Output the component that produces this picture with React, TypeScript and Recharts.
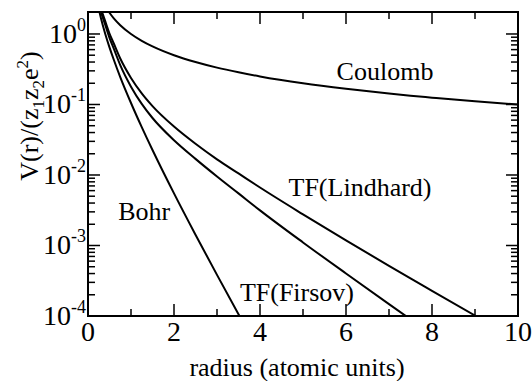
import React from 'react';
import { LineChart, Line, XAxis, YAxis, ReferenceArea, ReferenceDot } from 'recharts';

// radius in atomic units
const radius = [0.25, 0.3, 0.4, 0.5, 0.6, 0.75, 1, 1.25, 1.5, 2, 2.5, 3, 3.5, 4, 5, 6, 7, 7.5, 8, 9, 10];
const coulomb = [null, null, 2.5, 2.0, 1.667, 1.333, 1.0, 0.8, 0.667, 0.5, 0.4, 0.333, 0.286, 0.25, 0.2, 0.167, 0.143, 0.133, 0.125, 0.111, 0.1];
const bohr = [2.27, 1.69, 1.01, 0.647, 0.431, 0.245, 0.105, 0.0477, 0.0226, 0.00548, 0.00142, 3.83e-4, 1.06e-4, 3.0e-5, null, null, null, null, null, null, null];
const firsov = [2.64, 2.07, 1.35, 0.883, 0.618, 0.362, 0.179, 0.102, 0.0643, 0.0311, 0.01692, 0.00952, 0.00548, 0.00315, 0.001105, 4.01e-4, 1.474e-4, 8.98e-5, 5.48e-5, null, null];
const lindhard = [2.8, 2.28, 1.52, 1.016, 0.733, 0.449, 0.238, 0.1436, 0.0948, 0.0486, 0.0277, 0.01667, 0.01052, 0.00664, 0.002767, 0.00118, 5.15e-4, 3.42e-4, 2.28e-4, 1.016e-4, 4.54e-5];

const xTicks = [0, 1, 2, 3, 4, 5, 6, 7, 8, 9, 10];
const yTicks: number[] = [];
[-4, -3, -2, -1, 0].forEach((e) => {
  for (let m = 1; m <= 9; m++) {
    if (e === 0 && m > 1) break;
    yTicks.push(m * Math.pow(10, e));
  }
});

const labels = [
  { text: 'Coulomb', r: 6.907, v: 0.223 },
  { text: 'TF(Lindhard)', r: 6.326, v: 0.00504 },
  { text: 'Bohr', r: 1.307, v: 0.0023 },
  { text: 'TF(Firsov)', r: 4.86, v: 1.63e-4 },
];

const data = radius.map((r, i) => ({
  r,
  coulomb: coulomb[i],
  bohr: bohr[i],
  firsov: firsov[i],
  lindhard: lindhard[i],
}));

const W = 532;
const H = 381;
const PLOT = { left: 88, right: 518, top: 12, bottom: 316 };
const FONT = "Liberation Serif, Times New Roman, Times, Tinos, Nimbus Roman, Noto Serif, DejaVu Serif, serif";
const txt = (size: number) => ({ fontFamily: FONT, fontSize: size });

function YTick(props: any) {
  const { y, payload } = props;
  const v = payload.value;
  const e = Math.log10(v);
  const major = Math.abs(e - Math.round(e)) < 1e-6;
  const len = major ? 12 : 7;
  return (
    <g>
      <line x1={PLOT.left} x2={PLOT.left + len} y1={y} y2={y} stroke="#000" strokeWidth={1.5} />
      <line x1={PLOT.right} x2={PLOT.right - len} y1={y} y2={y} stroke="#000" strokeWidth={1.5} />
      {major && (
        <text x={PLOT.left - 2} y={y + 9} textAnchor="end" fontFamily={FONT} style={txt(28)} fill="#000">
          10<tspan dy={-12} style={txt(18)}>{String(Math.round(e))}</tspan>
        </text>
      )}
    </g>
  );
}

function XTick(props: any) {
  const { x, payload } = props;
  const v = payload.value;
  const major = Math.round(v) % 2 === 0;
  const len = major ? 12 : 7;
  return (
    <g>
      <line x1={x} x2={x} y1={PLOT.bottom} y2={PLOT.bottom - len} stroke="#000" strokeWidth={1.5} />
      <line x1={x} x2={x} y1={PLOT.top} y2={PLOT.top + len} stroke="#000" strokeWidth={1.5} />
      {major && (
        <text x={x} y={341} textAnchor="middle" fontFamily={FONT} style={txt(28)} fill="#000">
          {v}
        </text>
      )}
    </g>
  );
}

function XTitle() {
  return (
    <text x={297} y={376} textAnchor="middle" style={txt(26)} fill="#000">
      radius (atomic units)
    </text>
  );
}

function YTitle() {
  return (
    <text transform="translate(38,116) rotate(-90)" textAnchor="middle" style={txt(26)} fill="#000">
      V(r)/(z<tspan dy={6} style={txt(17)}>1</tspan>
      <tspan dy={-6}>z</tspan>
      <tspan dy={6} style={txt(17)}>2</tspan>
      <tspan dy={-6}>e</tspan>
      <tspan dy={-10} style={txt(17)}>2</tspan>
      <tspan dy={10}>)</tspan>
    </text>
  );
}

export default function App() {
  return (
    <div style={{ position: 'absolute', left: 0, top: 0, width: W, height: H, background: '#fff', fontFamily: FONT }}>
      <LineChart width={W} height={H} data={data} margin={{ top: PLOT.top, right: W - PLOT.right, left: 0, bottom: 0 }}>
        <XAxis
          dataKey="r"
          type="number"
          domain={[0, 10]}
          ticks={xTicks}
          interval={0}
          tickLine={false}
          axisLine={false}
          tickSize={0}
          tickMargin={0}
          height={H - PLOT.bottom}
          tick={(p: any) => <XTick {...p} />}
          label={<XTitle />}
        />
        <YAxis
          type="number"
          scale="log"
          domain={[1e-4, 2.05]}
          allowDataOverflow
          ticks={yTicks}
          interval={0}
          tickLine={false}
          axisLine={false}
          tickSize={0}
          tickMargin={0}
          width={PLOT.left}
          tick={(p: any) => <YTick {...p} />}
          label={<YTitle />}
        />
        <ReferenceArea x1={0} x2={10} y1={1e-4} y2={2.05} fill="none" stroke="#000" strokeWidth={2} ifOverflow="visible" />
        <Line type="monotone" dataKey="coulomb" stroke="#000" strokeWidth={2} dot={false} isAnimationActive={false} />
        <Line type="monotone" dataKey="bohr" stroke="#000" strokeWidth={2} dot={false} isAnimationActive={false} />
        <Line type="monotone" dataKey="firsov" stroke="#000" strokeWidth={2} dot={false} isAnimationActive={false} />
        <Line type="monotone" dataKey="lindhard" stroke="#000" strokeWidth={2} dot={false} isAnimationActive={false} />
        {labels.map((l) => (
          <ReferenceDot
            key={l.text}
            x={l.r}
            y={l.v}
            r={0}
            ifOverflow="visible"
            shape={(p: any) => (
              <text x={p.cx} y={p.cy} textAnchor="middle" style={txt(26)} fill="#000">
                {l.text}
              </text>
            )}
          />
        ))}
      </LineChart>
    </div>
  );
}
